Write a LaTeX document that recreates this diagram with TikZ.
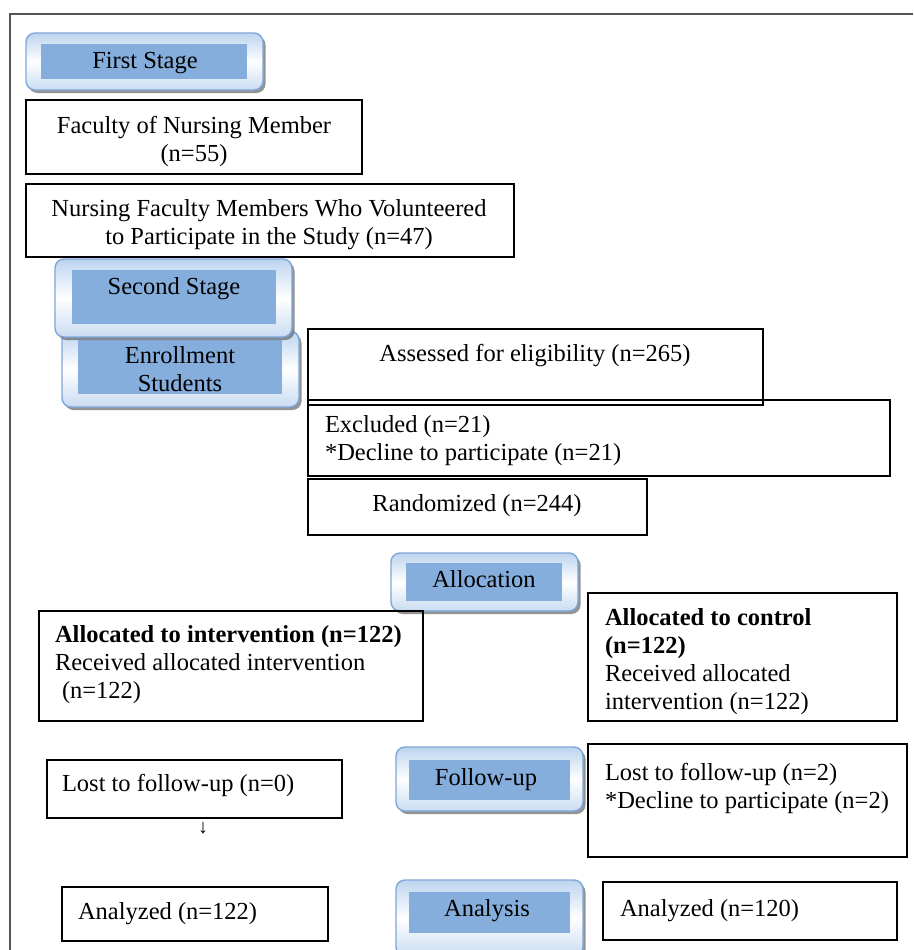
\documentclass[tikz,border=0pt]{standalone}
\usepackage{fontspec}
\setmainfont{Liberation Serif}
\usetikzlibrary{shadows}
\definecolor{stageedge}{HTML}{7EA6D8}
\definecolor{stagelight}{HTML}{BCD4EF}
\definecolor{stageinner}{HTML}{85AEDC}
\definecolor{framegray}{HTML}{555555}
\begin{document}
\begin{tikzpicture}[x=1pt,y=-1pt,
  every node/.style={inner sep=0pt, outer sep=0pt, font=\fontsize{24.5}{28}\selectfont},
  box/.style={draw=black, line width=1.2pt, rectangle, anchor=north west},
  stageouter/.style={draw=stageedge, line width=1.4pt, rounded corners=9pt, anchor=north west,
    top color=stagelight, bottom color=stagelight!80, middle color=white,
    drop shadow={shadow xshift=2.5pt, shadow yshift=-3pt, fill=black!60, opacity=0.7}},
  stageinner/.style={fill=stageinner, rectangle, anchor=north west},
  lbl/.style={anchor=base, align=center},
  lbll/.style={anchor=base west, align=left}
]
\useasboundingbox (0,0) rectangle (913,950);
\fill[white] (0,0) rectangle (913,950);
% frame
\coordinate (ftl) at (10,14);
\coordinate (ftr) at (913,14);
\coordinate (fbl) at (10,950);
\draw[framegray, line width=1.6pt] (ftr) -- (ftl) -- (fbl);

% First stage
\node[stageouter, minimum width=237pt, minimum height=57pt] (s1) at (26,33) {};
\node[stageinner, minimum width=206pt, minimum height=35pt] (s1i) at (41,44) {};
\node[lbl] (s1t) at (145,68) {First Stage};

% Faculty
\node[box, minimum width=336pt, minimum height=74pt] (fac) at (26,100) {};
\node[lbl] (fact) at (194,161) {Faculty of Nursing Member\\(n=55)};

% Volunteers
\node[box, minimum width=488pt, minimum height=73pt] (vol) at (26,184) {};
\node[lbl] (volt) at (269,244) {Nursing Faculty Members Who Volunteered\\to Participate in the Study (n=47)};

% Enrollment (behind)
\node[stageouter, minimum width=237pt, minimum height=76pt] (enr) at (62,331) {};
\node[stageinner, minimum width=204pt, minimum height=54pt] (enri) at (78,340) {};

% Second stage
\node[stageouter, minimum width=237pt, minimum height=78pt] (s2) at (55,259) {};
\node[stageinner, minimum width=204pt, minimum height=54pt] (s2i) at (72,270) {};
\node[lbl] (s2t) at (174,294) {Second Stage};
\node[lbl] (enrt) at (180,391) {Enrollment\\Students};

% Assessed
\node[box, minimum width=455pt, minimum height=76pt] (ass) at (308,329) {};
\node[lbl] (asst) at (535,361) {Assessed for eligibility (n=265)};

% Excluded
\node[box, minimum width=582pt, minimum height=76pt] (exc) at (308,400) {};
\node[lbll] (exct) at (325,460) {Excluded (n=21)\\*Decline to participate (n=21)};

% Randomized
\node[box, minimum width=339pt, minimum height=56pt] (ran) at (308,479) {};
\node[lbl] (rant) at (477,511) {Randomized (n=244)};

% Allocation
\node[stageouter, minimum width=187pt, minimum height=58pt] (alo) at (391,553) {};
\node[stageinner, minimum width=156pt, minimum height=38pt] (aloi) at (406,563) {};
\node[lbl] (alot) at (484,587) {Allocation};

% Intervention
\node[box, minimum width=384pt, minimum height=110pt] (int) at (39,611) {};
\node[lbll] (intt) at (55,698) {\textbf{Allocated to intervention (n=122)}\\Received allocated intervention\\\hspace*{7pt}(n=122)};

% Control
\node[box, minimum width=309pt, minimum height=128pt] (con) at (588,593) {};
\node[lbll] (cont) at (605,709) {\textbf{Allocated to control}\\\textbf{(n=122)}\\Received allocated\\intervention (n=122)};

% Lost 0
\node[box, minimum width=295pt, minimum height=58pt] (l0) at (47,760) {};
\node[lbll] (l0t) at (62,791) {Lost to follow-up (n=0)};
\node[anchor=center, font=\fontsize{20}{22}\selectfont] (arr) at (203,828) {↓};

% Follow-up
\node[stageouter, minimum width=187pt, minimum height=64pt] (fol) at (396,747) {};
\node[stageinner, minimum width=161pt, minimum height=40pt] (foli) at (409,760) {};
\node[lbl] (folt) at (486,785) {Follow-up};

% Lost 2
\node[box, minimum width=319pt, minimum height=113pt] (l2) at (588,744) {};
\node[lbll] (l2t) at (605,808) {Lost to follow-up (n=2)\\*Decline to participate (n=2)};

% Analyzed 122
\node[box, minimum width=266pt, minimum height=54pt] (a1) at (62,887) {};
\node[lbll] (a1t) at (78,919) {Analyzed (n=122)};

% Analysis
\node[stageouter, minimum width=187pt, minimum height=76pt] (ana) at (396,880) {};
\node[stageinner, minimum width=161pt, minimum height=41pt] (anai) at (409,892) {};
\node[lbl] (anat) at (487,916) {Analysis};

% Analyzed 120
\node[box, minimum width=294pt, minimum height=58pt] (a2) at (603,882) {};
\node[lbll] (a2t) at (620,916) {Analyzed (n=120)};
\end{tikzpicture}
\end{document}
